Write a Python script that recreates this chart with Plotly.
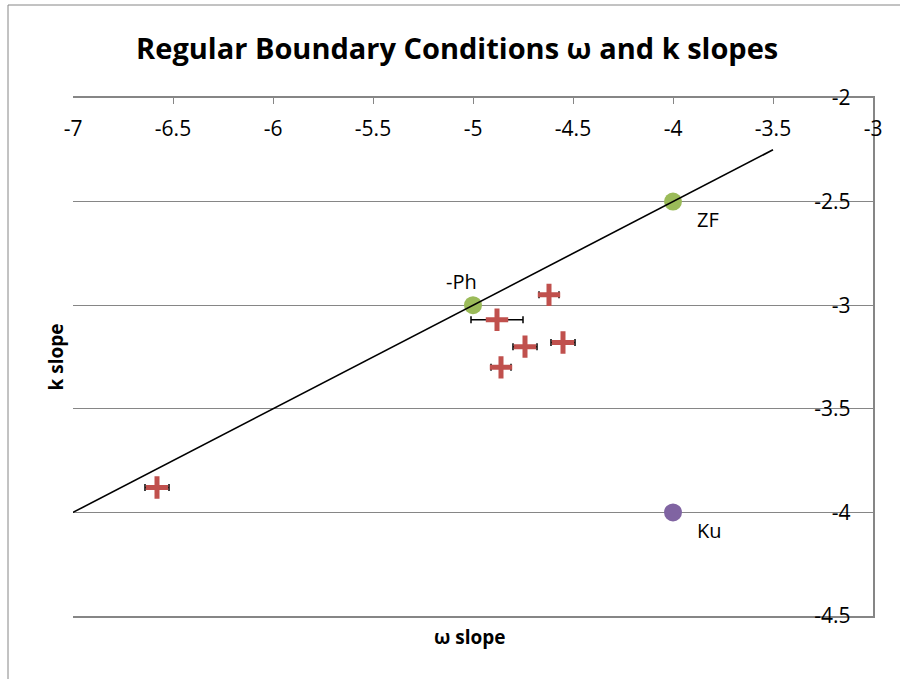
import plotly.graph_objects as go

# Measured slopes with x uncertainties
meas_x = [-6.58, -4.62, -4.88, -4.74, -4.55, -4.86]
meas_y = [-3.88, -2.95, -3.07, -3.20, -3.18, -3.30]
meas_err = [0.06, 0.05, 0.13, 0.06, 0.06, 0.05]

# Reference cases
green_x = [-4.0, -5.0]
green_y = [-2.5, -3.0]
green_labels = ["ZF", "-Ph"]
ku_x = [-4.0]
ku_y = [-4.0]
ku_labels = ["Ku"]

# Guide line
line_x = [-7.0, -3.5]
line_y = [-4.0, -2.25]

x_ticks = [-7, -6.5, -6, -5.5, -5, -4.5, -4, -3.5, -3]
y_ticks = [-2, -2.5, -3, -3.5, -4, -4.5]

FONT = "Open Sans"
AXIS_GREY = "#868686"

fig = go.Figure()

fig.add_trace(go.Scatter(
    x=green_x, y=green_y, mode="markers",
    marker=dict(symbol="circle", size=18, color="#9BBB59"),
    showlegend=False, hoverinfo="skip"))

fig.add_trace(go.Scatter(
    x=ku_x, y=ku_y, mode="markers",
    marker=dict(symbol="circle", size=18, color="#8064A2"),
    showlegend=False, hoverinfo="skip"))

fig.add_trace(go.Scatter(
    x=line_x, y=line_y, mode="lines",
    line=dict(color="black", width=1.6),
    showlegend=False, hoverinfo="skip"))

fig.add_trace(go.Scatter(
    x=meas_x, y=meas_y, mode="markers",
    marker=dict(symbol="cross-thin", size=16,
                line=dict(color="#C0504D", width=5)),
    error_x=dict(type="data", array=meas_err, visible=True,
                 color="black", thickness=1.5, width=3.5),
    showlegend=False, hoverinfo="skip"))

annotations = []
label_offsets = {"ZF": (22, -18, "left"), "-Ph": (-12, 24, "center"),
                 "Ku": (22, -18, "left")}
for xs, ys, labels in ((green_x, green_y, green_labels), (ku_x, ku_y, ku_labels)):
    for x, y, t in zip(xs, ys, labels):
        dx, dy, anchor = label_offsets[t]
        annotations.append(dict(
            x=x, y=y, xref="x", yref="y", text=t, showarrow=False,
            xanchor=anchor, yanchor="middle", xshift=dx, yshift=dy,
            font=dict(family=FONT, size=20, color="black")))

annotations.append(dict(
    x=0.496, y=-0.012, xref="paper", yref="paper", text="<b>ω slope</b>",
    showarrow=False, xanchor="center", yanchor="top",
    font=dict(family=FONT, size=19, color="black")))
annotations.append(dict(
    x=-0.002, y=0.5, xref="paper", yref="paper", text="<b>k slope</b>",
    showarrow=False, xanchor="right", yanchor="middle", textangle=-90,
    font=dict(family=FONT, size=19, color="black")))

fig.update_layout(
    width=900, height=679,
    margin=dict(l=73, r=27, t=98, b=63),
    paper_bgcolor="white", plot_bgcolor="white",
    title=dict(text="<b>Regular Boundary Conditions ω and k slopes</b>",
               x=0.508, xanchor="center", y=0.928, yanchor="middle",
               font=dict(family=FONT, size=29, color="black")),
    annotations=annotations,
    xaxis=dict(
        range=[-7, -3], side="top", tickvals=x_ticks,
        ticktext=[f"{v:g}" for v in x_ticks],
        ticks="inside", ticklen=6, tickcolor=AXIS_GREY, tickwidth=1,
        ticklabelposition="inside", ticklabeloverflow="allow",
        ticklabelstandoff=19,
        showline=True, linecolor=AXIS_GREY, linewidth=1.5, mirror=True,
        showgrid=False, zeroline=False,
        tickfont=dict(family=FONT, size=21, color="black")),
    yaxis=dict(
        range=[-4.5, -2], side="right", tickvals=y_ticks,
        ticktext=[f"{v:g}" for v in y_ticks],
        ticks="", ticklabelposition="inside", ticklabeloverflow="allow",
        ticklabelstandoff=24,
        showline=True, linecolor=AXIS_GREY, linewidth=1.5,
        showgrid=True, gridcolor=AXIS_GREY, gridwidth=1, zeroline=False,
        tickfont=dict(family=FONT, size=21, color="black")),
    shapes=[
        dict(type="line", xref="paper", yref="paper",
             x0=(8 - 73) / 800, x1=(8 - 73) / 800,
             y0=(679 - 5 - 63) / 518, y1=-63 / 518 - 0.01,
             line=dict(color=AXIS_GREY, width=1)),
        dict(type="line", xref="paper", yref="paper",
             x0=(8 - 73) / 800, x1=(900 - 73) / 800 + 0.01,
             y0=(679 - 5 - 63) / 518, y1=(679 - 5 - 63) / 518,
             line=dict(color=AXIS_GREY, width=1)),
    ],
)

fig.write_html("out.html")
